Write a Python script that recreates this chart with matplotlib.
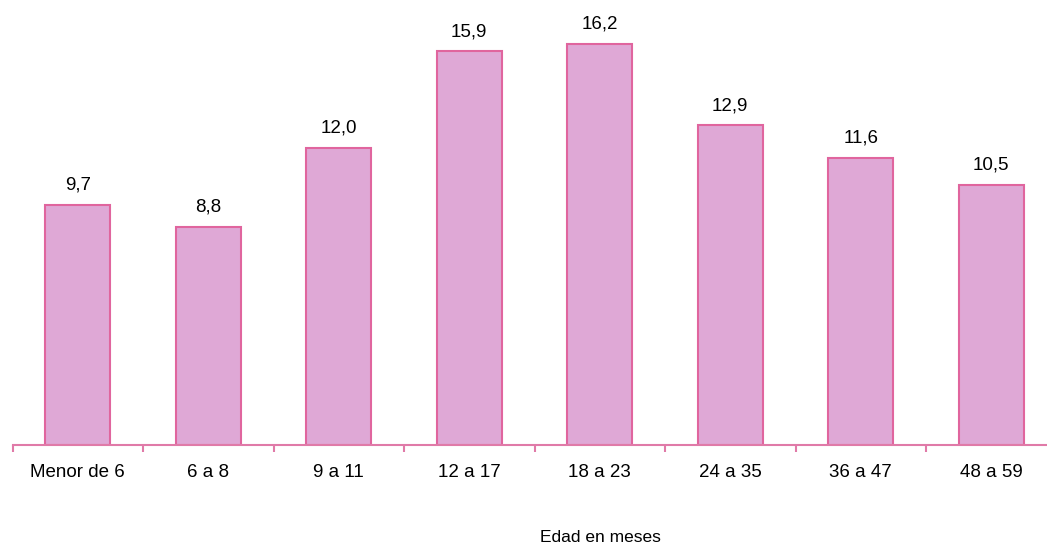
import numpy as np
import matplotlib.pyplot as plt

categorias = ['Menor de 6', '6 a 8', '9 a 11', '12 a 17', '18 a 23',
              '24 a 35', '36 a 47', '48 a 59']
valores = [9.7, 8.8, 12.0, 15.9, 16.2, 12.9, 11.6, 10.5]

plt.rcParams['font.family'] = ['Liberation Sans', 'DejaVu Sans']

fig = plt.figure(figsize=(10.47, 5.46), dpi=100)
ax = fig.add_axes([12.5 / 1047, 101 / 546, 1044 / 1047, 431 / 546])

x = np.arange(len(categorias))
barras = ax.bar(x, valores, width=0.5, color='#dfa8d6', edgecolor='#e0659e',
                linewidth=1.5, zorder=2)

for xi, v in zip(x, valores):
    ax.text(xi, v + 0.45, f'{v:.1f}'.replace('.', ','), ha='center',
            va='bottom', fontsize=13.5)

ax.set_xlim(-0.5, len(categorias) - 0.5)
ax.set_ylim(0, 17.4)

for s in ['top', 'right', 'left']:
    ax.spines[s].set_visible(False)
ax.spines['bottom'].set_color('#e07aa8')
ax.spines['bottom'].set_linewidth(1.5)

ax.set_yticks([])
ax.set_xticks(x)
ax.set_xticklabels(categorias, fontsize=13.5)
ax.tick_params(axis='x', which='major', length=0, pad=14)
ax.set_xticks(np.arange(len(categorias) + 1) - 0.5, minor=True)
ax.tick_params(axis='x', which='minor', length=5, width=1.5, color='#e07aa8')

fig.text(600 / 1047, 1 - 537 / 546, 'Edad en meses', ha='center', va='center',
         fontsize=12.5)

fig.savefig('out.png', dpi=100)
